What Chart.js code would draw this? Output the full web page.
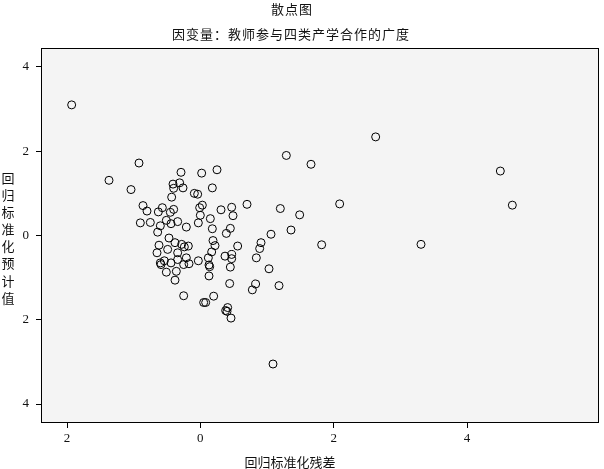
<!DOCTYPE html>
<html lang="zh">
<head>
    <meta charset="UTF-8">
    <title>散点图</title>
    <script src="https://cdn.jsdelivr.net/npm/chart.js"></script>
    <style>
        body { margin: 0; background: #fff; }
    </style>
</head>
<body>
    <canvas id="scatter" width="604" height="469"></canvas>
    <script>
        const chartTitle = '散点图';
        const chartSubtitle = '因变量：教师参与四类产学合作的广度';
        const xAxisLabel = '回归标准化残差';
        const yAxisLabel = '回归标准化预计值';
        const xTicks = [-2, 0, 2, 4];
        const yTicks = [-4, -2, 0, 2, 4];

        // standardized residual (x) and standardized predicted value (y)
        const residuals = [
            -0.92, -1.37, -1.04, -0.29, 0.02, 0.25, -0.41, -0.31, -0.40, -0.26,
            -0.09, -0.04, 0.18, -0.43, -0.86, -0.80, -0.63, -0.57, -0.45, -0.40,
            -0.01, 0.03, 0.00, 0.31, 0.47, 0.49, 0.70, -0.90, -0.75, -0.60,
            -0.51, -0.44, -0.34, -0.21, -0.03, 0.15, 0.18, 0.39, 0.45, -0.64,
            -0.47, -0.38, -0.28, -0.24, -0.18, -0.62, -0.49, -0.34, -0.65, 0.19,
            0.22, 0.17, 0.56, 0.12, 0.37, 0.47, 0.47, -0.54, -0.60, -0.59,
            -0.44, -0.34, -0.21, -0.25, -0.17, -0.03, 0.13, 0.14, 0.45, -0.51,
            -0.36, 0.13, -0.38, 0.44, -0.25, 0.20, 0.05, 0.08, 0.41, 0.38,
            0.40, 0.46, 1.06, 1.36, 0.91, 0.89, 0.84, 1.03, 0.83, 0.78,
            1.18, 1.09, 2.63, 1.29, 1.66, 4.50, 4.68, 2.09, 1.20, 1.49,
            1.82, 3.31, -1.93
        ];
        const predicted = [
            1.72, 1.31, 1.09, 1.50, 1.48, 1.56, 1.22, 1.25, 1.12, 1.13,
            1.00, 0.98, 1.13, 0.91, 0.71, 0.58, 0.56, 0.66, 0.55, 0.62,
            0.66, 0.72, 0.48, 0.61, 0.67, 0.47, 0.74, 0.30, 0.31, 0.23,
            0.36, 0.28, 0.33, 0.20, 0.30, 0.40, 0.16, 0.05, 0.17, 0.08,
            -0.06, -0.17, -0.21, -0.27, -0.25, -0.23, -0.33, -0.41, -0.41, -0.12,
            -0.24, -0.39, -0.25, -0.53, -0.49, -0.45, -0.55, -0.60, -0.65, -0.69,
            -0.65, -0.57, -0.53, -0.69, -0.67, -0.60, -0.70, -0.74, -0.75, -0.87,
            -0.85, -0.96, -1.06, -1.14, -1.43, -1.44, -1.59, -1.59, -1.71, -1.78,
            -1.80, -1.96, 0.03, 0.13, -0.17, -0.31, -0.53, -0.79, -1.15, -1.29,
            -1.19, -3.05, 2.34, 1.90, 1.69, 1.53, 0.72, 0.75, 0.64, 0.49,
            -0.22, -0.21, 3.10
        ];

        const points = residuals.map((x, i) => ({ x: x, y: predicted[i] }));

        const spssLook = {
            id: 'spssLook',
            beforeDraw(chart) {
                const { ctx, chartArea: a } = chart;
                ctx.save();
                ctx.fillStyle = '#f4f4f4';
                ctx.fillRect(a.left, a.top, a.right - a.left, a.bottom - a.top);
                ctx.restore();
            },
            afterDraw(chart) {
                const { ctx, chartArea: a } = chart;
                ctx.save();
                ctx.strokeStyle = '#000';
                ctx.lineWidth = 1;
                ctx.strokeRect(a.left + 0.5, a.top + 0.5, a.right - a.left - 1, a.bottom - a.top - 1);

                ctx.fillStyle = '#111';
                ctx.textAlign = 'center';
                ctx.textBaseline = 'middle';
                ctx.font = '13px "Noto Sans CJK SC"';
                ctx.letterSpacing = '1px';
                ctx.fillText(chartTitle, 292, 9);
                ctx.fillText(chartSubtitle, 291, 34);
                ctx.letterSpacing = '0px';
                ctx.fillText(xAxisLabel, 290, 462);

                // vertical axis title, one character per line
                const chars = Array.from(yAxisLabel);
                chars.forEach((c, i) => ctx.fillText(c, 8, 178 + i * 17.1));
                ctx.restore();
            }
        };

        const tickFont = { family: '"Liberation Serif", serif', size: 13 };

        new Chart(document.getElementById('scatter'), {
            type: 'scatter',
            data: {
                datasets: [{
                    data: points,
                    pointStyle: 'circle',
                    pointRadius: 4,
                    pointHoverRadius: 4,
                    borderWidth: 1,
                    borderColor: '#000',
                    backgroundColor: 'rgba(0,0,0,0)'
                }]
            },
            options: {
                responsive: false,
                animation: false,
                layout: { padding: { top: 48, right: 2, left: 0, bottom: 0 } },
                plugins: {
                    legend: { display: false },
                    tooltip: { enabled: false }
                },
                scales: {
                    x: {
                        type: 'linear',
                        min: -2.39,
                        max: 5.98,
                        afterBuildTicks: s => { s.ticks = xTicks.map(v => ({ value: v })); },
                        afterFit: s => { s.height = 46; },
                        border: { display: false },
                        grid: { drawOnChartArea: false, drawTicks: true, tickLength: 5, color: '#000' },
                        ticks: {
                            color: '#111',
                            font: tickFont,
                            padding: 3,
                            callback: v => String(Math.abs(v))
                        }
                    },
                    y: {
                        type: 'linear',
                        min: -4.45,
                        max: 4.45,
                        afterBuildTicks: s => { s.ticks = yTicks.map(v => ({ value: v })); },
                        afterFit: s => { s.width = 41; },
                        border: { display: false },
                        grid: { drawOnChartArea: false, drawTicks: true, tickLength: 5, color: '#000' },
                        ticks: {
                            color: '#111',
                            font: tickFont,
                            padding: 7,
                            callback: v => String(Math.abs(v))
                        }
                    }
                }
            },
            plugins: [spssLook]
        });
    </script>
</body>
</html>
